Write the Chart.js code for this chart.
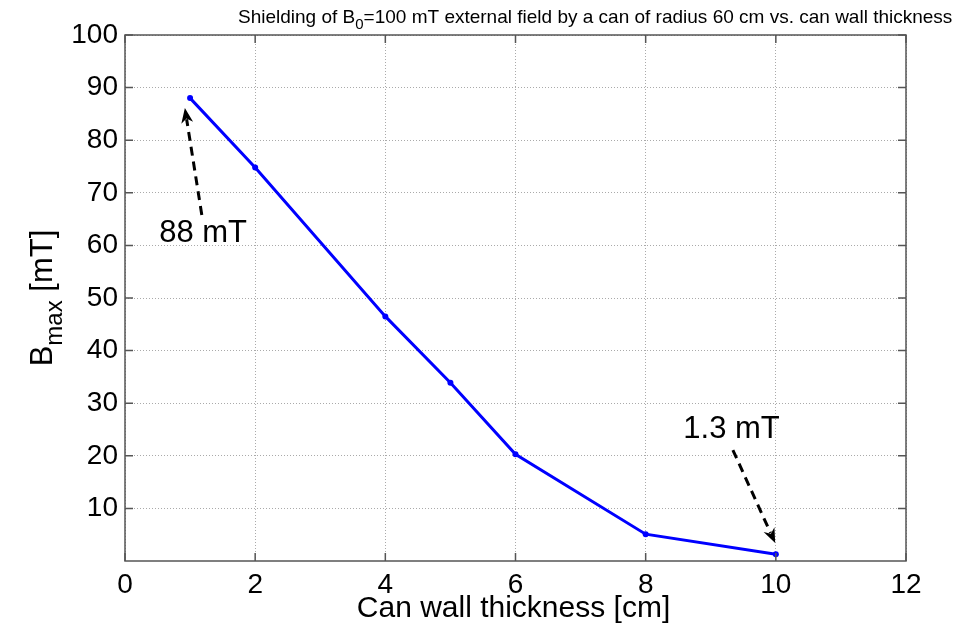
<!DOCTYPE html>
<html>
<head>
<meta charset="utf-8">
<script src="https://cdn.jsdelivr.net/npm/chart.js@4"></script>
<style>
  html, body { margin: 0; padding: 0; background: #fff; }
  #wrap { width: 973px; height: 626px; }
</style>
</head>
<body>
<div id="wrap"><canvas id="chart"></canvas></div>
<script>
// data
const thickness = [1, 2, 4, 5, 6, 8, 10];
const bmax = [88, 74.8, 46.5, 33.9, 20.3, 5.1, 1.3];
const xTicks = [0, 2, 4, 6, 8, 10, 12];
const yTicks = [10, 20, 30, 40, 50, 60, 70, 80, 90, 100];

// annotations: label, label position, arrow tail, arrow head (data units)
const noteLabels = ['88 mT', '1.3 mT'];
const noteText = [[1.2, 62.3], [9.32, 25]];
const noteTail = [[1.18, 65.8], [9.34, 21.1]];
const noteHead = [[0.92, 86.1], [9.99, 3.4]];

const FONT = '"Liberation Sans", Arial, sans-serif';

const extras = {
  id: 'extras',
  afterDraw(chart) {
    const { ctx, chartArea: a, scales: { x, y } } = chart;
    ctx.save();
    // box
    ctx.strokeStyle = '#555';
    ctx.lineWidth = 1.5;
    ctx.strokeRect(a.left, a.top, a.right - a.left, a.bottom - a.top);
    // inner tick marks
    ctx.beginPath();
    xTicks.forEach(v => {
      const px = x.getPixelForValue(v);
      ctx.moveTo(px, a.bottom); ctx.lineTo(px, a.bottom - 8);
      ctx.moveTo(px, a.top); ctx.lineTo(px, a.top + 8);
    });
    yTicks.forEach(v => {
      const py = y.getPixelForValue(v);
      ctx.moveTo(a.left, py); ctx.lineTo(a.left + 8, py);
      ctx.moveTo(a.right, py); ctx.lineTo(a.right - 8, py);
    });
    ctx.stroke();

    // annotations
    ctx.fillStyle = '#000';
    ctx.strokeStyle = '#000';
    noteLabels.forEach((t, i) => {
      ctx.font = '31px ' + FONT;
      ctx.textAlign = 'center';
      ctx.textBaseline = 'middle';
      ctx.fillText(t, x.getPixelForValue(noteText[i][0]), y.getPixelForValue(noteText[i][1]));
      const x0 = x.getPixelForValue(noteTail[i][0]), y0 = y.getPixelForValue(noteTail[i][1]);
      const x1 = x.getPixelForValue(noteHead[i][0]), y1 = y.getPixelForValue(noteHead[i][1]);
      const ang = Math.atan2(y1 - y0, x1 - x0);
      const hl = 16;
      ctx.lineWidth = 3;
      ctx.setLineDash([9, 6]);
      ctx.beginPath();
      ctx.moveTo(x0, y0);
      ctx.lineTo(x1 - Math.cos(ang) * hl * 0.7, y1 - Math.sin(ang) * hl * 0.7);
      ctx.stroke();
      ctx.setLineDash([]);
      ctx.beginPath();
      ctx.moveTo(x1, y1);
      ctx.lineTo(x1 - hl * Math.cos(ang - 0.38), y1 - hl * Math.sin(ang - 0.38));
      ctx.lineTo(x1 - hl * 0.65 * Math.cos(ang), y1 - hl * 0.65 * Math.sin(ang));
      ctx.lineTo(x1 - hl * Math.cos(ang + 0.38), y1 - hl * Math.sin(ang + 0.38));
      ctx.closePath();
      ctx.fill();
    });

    // title with subscript
    ctx.textAlign = 'left';
    ctx.textBaseline = 'alphabetic';
    const parts = [['Shielding of B', 19, 0], ['0', 15, 6], ['=100 mT external field by a can of radius 60 cm vs. can wall thickness', 19, 0]];
    let cx = 238;
    parts.forEach(p => {
      ctx.font = p[1] + 'px ' + FONT;
      ctx.fillText(p[0], cx, 23 + p[2]);
      cx += ctx.measureText(p[0]).width;
    });

    // x title
    ctx.font = '30px ' + FONT;
    ctx.textAlign = 'center';
    ctx.fillText('Can wall thickness [cm]', (a.left + a.right) / 2 - 2, 617);

    // y title rotated with subscript
    ctx.translate(52, (a.top + a.bottom) / 2);
    ctx.rotate(-Math.PI / 2);
    const yp = [['B', 31, 0], ['max', 24, 10], [' [mT]', 31, 0]];
    let yw = 0;
    yp.forEach(p => { ctx.font = p[1] + 'px ' + FONT; yw += ctx.measureText(p[0]).width; });
    let yx = -yw / 2;
    ctx.textAlign = 'left';
    yp.forEach(p => {
      ctx.font = p[1] + 'px ' + FONT;
      ctx.fillText(p[0], yx, p[2]);
      yx += ctx.measureText(p[0]).width;
    });
    ctx.restore();
  }
};

new Chart(document.getElementById('chart'), {
  type: 'line',
  data: {
    datasets: [{
      data: thickness.map((t, i) => ({ x: t, y: bmax[i] })),
      borderColor: '#0000ff',
      backgroundColor: '#0000ff',
      borderWidth: 3,
      pointRadius: 3,
      pointBorderWidth: 0,
      tension: 0
    }]
  },
  options: {
    responsive: true,
    maintainAspectRatio: false,
    animation: false,
    layout: { padding: { top: 35, right: 67, left: 0, bottom: 0 } },
    plugins: { legend: { display: false }, tooltip: { enabled: false } },
    scales: {
      x: {
        type: 'linear',
        min: 0, max: 12,
        afterBuildTicks: s => { s.ticks = xTicks.map(v => ({ value: v })); },
        afterFit: s => { s.height = 65; },
        grid: { color: '#aaa', lineWidth: 1, drawTicks: false },
        border: { display: false, dash: [1, 2] },
        ticks: { color: '#000', font: { family: FONT, size: 28 }, padding: 7, maxRotation: 0 }
      },
      y: {
        min: 0, max: 100,
        afterBuildTicks: s => { s.ticks = yTicks.map(v => ({ value: v })); },
        afterFit: s => { s.width = 125; },
        grid: { color: '#aaa', lineWidth: 1, drawTicks: false },
        border: { display: false, dash: [1, 2] },
        ticks: { color: '#000', font: { family: FONT, size: 28 }, padding: 7 }
      }
    }
  },
  plugins: [extras]
});
</script>
</body>
</html>
